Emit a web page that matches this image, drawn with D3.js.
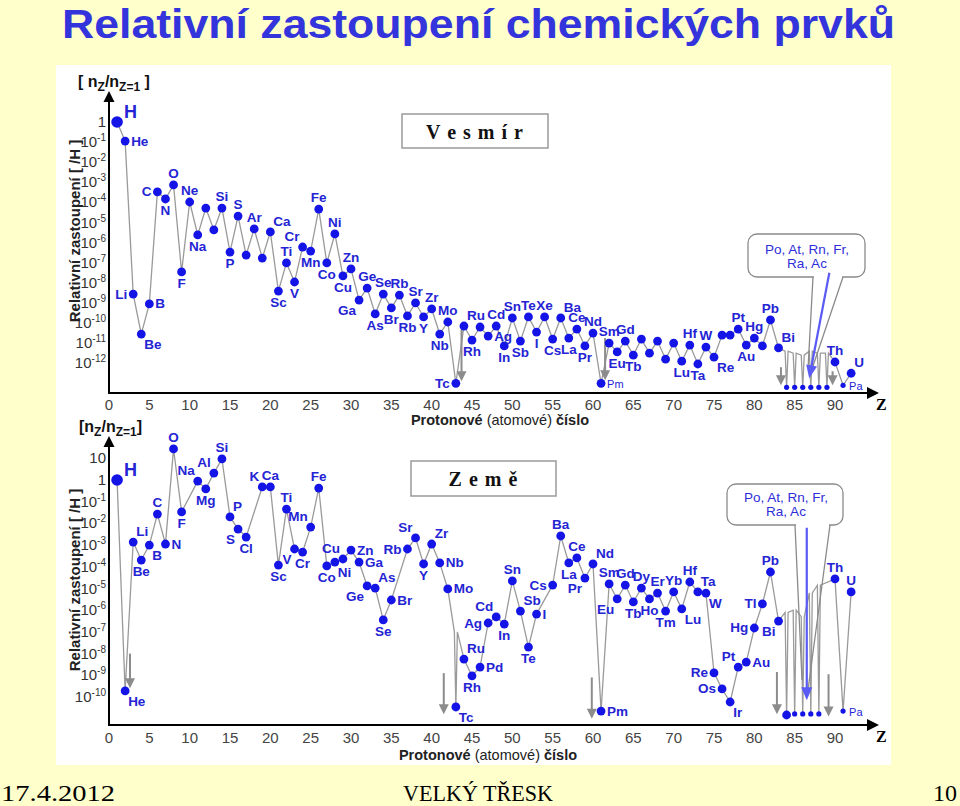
<!DOCTYPE html>
<html>
<head>
<meta charset="utf-8">
<script src="https://cdn.jsdelivr.net/npm/d3@7"></script>
<style>
  body { margin: 0; background: #ffffcc; }
  svg { display: block; }
</style>
</head>
<body>
<div id="chart"></div>
<script>
//////////////////////////// DATA
// element symbols, Z = 1..92
var symbols = ["H","He","Li","Be","B","C","N","O","F","Ne","Na","Mg","Al","Si","P","S","Cl","Ar",
  "K","Ca","Sc","Ti","V","Cr","Mn","Fe","Co","Ni","Cu","Zn","Ga","Ge","As","Se","Br","Kr",
  "Rb","Sr","Y","Zr","Nb","Mo","Tc","Ru","Rh","Pd","Ag","Cd","In","Sn","Sb","Te","I","Xe",
  "Cs","Ba","La","Ce","Pr","Nd","Pm","Sm","Eu","Gd","Tb","Dy","Ho","Er","Tm","Yb","Lu",
  "Hf","Ta","W","Re","Os","Ir","Pt","Au","Hg","Tl","Pb","Bi","Po","At","Rn","Fr","Ra","Ac",
  "Th","Pa","U"];

// log10 of abundance relative to H - universe (Vesmír). values near -13 sit on the floor
var vesmirLog = [
  0, -0.95, -8.56, -10.55, -9.05, -3.48, -3.83, -3.13, -7.46, -3.98,
  -5.62, -4.28, -5.37, -4.28, -6.47, -4.68, -6.62, -5.32, -6.77, -5.47,
  -8.41, -7.01, -7.96, -6.22, -6.42, -4.33, -7.01, -5.57, -7.66, -7.31,
  -8.86, -8.26, -9.55, -8.56, -9.25, -8.61, -9.65, -9.0, -9.7, -9.3,
  -10.55, -9.95, -13.0, -10.15, -10.85, -10.2, -10.65, -10.15, -11.14, -9.75,
  -10.9, -9.7, -10.45, -9.7, -10.8, -9.75, -10.75, -10.3, -11.14, -10.5,
  -13.0, -11.0, -11.44, -10.9, -11.6, -10.8, -11.5, -10.9, -11.8, -11.0,
  -11.9, -11.1, -12.04, -11.2, -11.7, -10.6, -10.6, -10.3, -11.1, -10.75,
  -11.14, -9.85, -11.24, -13.2, -13.2, -13.2, -13.2, -13.2, -13.2, -11.94,
  -13.1, -12.5];

// log10 of abundance relative to H - Earth (Země). null = not plotted
var zemeLog = [
  0, -9.72, -2.86, -3.69, -3.0, -1.57, -2.95, 1.43, -1.47, null,
  -0.05, -0.41, 0.32, 0.97, -1.7, -2.26, -2.63, null, -0.32, -0.32,
  -3.92, -1.34, -3.18, -3.32, -2.17, -0.37, -3.96, -3.78, -3.64, -3.23,
  -3.78, -4.88, -4.98, -6.45, -5.53, null, -3.18, -2.67, -3.87, -2.95,
  -3.82, -5.02, -10.46, -8.25, -9.03, -8.62, -6.59, -6.31, -6.64, -4.65,
  -6.04, -7.7, -6.18, null, -4.84, -2.58, -3.82, -3.59, -4.52, -3.87,
  -10.65, -4.79, -5.48, -4.84, -5.62, -4.98, -5.48, -5.21, -6.04, -5.16,
  -5.94, -4.7, -5.16, -5.21, -8.89, -9.63, -10.23, -8.62, -8.39, -6.82,
  -5.71, -4.24, -6.5, -10.83, -10.78, -10.78, -10.78, -10.78, null, -4.56,
  -10.65, -5.16];

// comb spikes above the "floor" elements (top of the vertical strokes, log10)
var vesmirSpikeZ = [84, 85, 86, 87, 88, 89];
var vesmirSpikeTop = [-11.4, -11.5, -11.6, -11.4, -11.5, -11.5];
var zemeSpikeZ = [43, 84, 85, 86, 87, 88];
var zemeSpikeTop = [-7.0, -6.1, -6.0, -6.3, -5.2, -4.85];

// small grey "below the scale" arrows: Z position, from, to (log10)
var vesmirArrowZ = [43.7, 61.5, 83.3, 89.7];
var vesmirArrowFrom = [-10.35, -10.75, -12.2, -12.4];
var vesmirArrowTo = [-12.9, -12.85, -13.1, -13.1];
var zemeArrowZ = [2.6, 41.5, 59.85, 82.8, 89.2];
var zemeArrowFrom = [-8.0, -8.9, -9.1, -8.85, -8.95];
var zemeArrowTo = [-9.6, -10.8, -11.0, -10.8, -10.9];

var xTicks = [0, 5, 10, 15, 20, 25, 30, 35, 40, 45, 50, 55, 60, 65, 70, 75, 80, 85, 90];
var vesmirYTicks = [0, -1, -2, -3, -4, -5, -6, -7, -8, -9, -10, -11, -12];
var zemeYTicks = [1, 0, -1, -2, -3, -4, -5, -6, -7, -8, -9, -10];

// label placement codes per element (. = no label)
var vesmirLabelPos = ("ne e w se e w s n s n " +
  "s . . n s n . n . ne " +
  "s n s nw s n s n s n " +
  "sw n s n s n s n s n " +
  "s n w ne s . e n s n " +
  "s n s n s ne s n s n " +
  "e n s n s . . . . . " +
  "s n s n se . . n s n " +
  ". n ne . . . . . . n " +
  "e ne").split(" ");
var zemeLabelPos = ("ne se ne s se n e n s . " +
  "nw s nw n ne sw s . nw n " +
  "s n sw s nw n s se nw e " +
  "e sw ne s e . w nw s ne " +
  "e e se ne s e w nw s n " +
  "ne s e . w n s n sw ne " +
  "e n sw n s n s n s n " +
  "se n ne se w w se nw e w " +
  "w n sw . . . . . . n " +
  "e n").split(" ");

// the source figure labels Kr as "Rb" in the universe panel
var vesmirNames = symbols.slice();
vesmirNames[35] = "Rb";

//////////////////////////// SVG
var svg = d3.select("#chart").append("svg")
    .attr("width", 960)
    .attr("height", 806);

svg.append("rect").attr("width", 960).attr("height", 806).attr("fill", "#ffffcc");
svg.append("rect").attr("x", 56).attr("y", 65).attr("width", 835).attr("height", 700).attr("fill", "#ffffff");

// title
svg.append("text")
    .attr("x", 62).attr("y", 38)
    .attr("textLength", 833).attr("lengthAdjust", "spacingAndGlyphs")
    .style("font", "bold 40px 'Liberation Sans Narrow', 'Liberation Sans', Arial, sans-serif")
    .style("fill", "#3434dc")
    .text("Relativní zastoupení chemických prvků");

// footer
var footFont = "24px 'Liberation Serif', 'Times New Roman', serif";
svg.append("text").attr("x", 1).attr("y", 801).attr("textLength", 114).attr("lengthAdjust", "spacingAndGlyphs")
    .style("font", footFont).text("17.4.2012");
svg.append("text").attr("x", 478).attr("y", 801).attr("text-anchor", "middle")
    .attr("textLength", 150).attr("lengthAdjust", "spacingAndGlyphs")
    .style("font", footFont).text("VELKÝ TŘESK");
svg.append("text").attr("x", 957).attr("y", 801).attr("text-anchor", "end")
    .style("font", footFont).text("10");

var x = d3.scaleLinear().domain([0, 90]).range([109, 835]);

var labelFont = "bold 13.5px 'Liberation Sans', Arial, sans-serif";
var dotColor = "#1414e6";
var labelColor = "#2424d4";
var lineColor = "#9a9a9a";

var offs = {
  n:  [0, -7, "middle"],
  s:  [0, 16, "middle"],
  e:  [6, 4.5, "start"],
  w:  [-6, 4.5, "end"],
  ne: [3, -6, "start"],
  nw: [-3, -6, "end"],
  se: [3, 15, "start"],
  sw: [-3, 15, "end"]
};

//////////////////////////////////////////////
// ONE PANEL
//////////////////////////////////////////////
function drawPanel(p) {
  var y = d3.scaleLinear().domain(p.yDomain).range(p.yRange);
  var g = svg.append("g");

  // y tick labels (powers of ten)
  g.selectAll(".ytick")
    .data(p.yTicks)
    .enter().append("text")
      .attr("x", 106)
      .attr("y", function(d) { return y(d) + 5; })
      .attr("text-anchor", "end")
      .style("font", "15px 'Liberation Sans', Arial, sans-serif")
      .style("fill", "#333")
      .each(function(d) {
        var t = d3.select(this);
        if (d === 0) t.text("1");
        else if (d === 1) t.text("10");
        else {
          t.append("tspan").text("10");
          t.append("tspan").attr("dy", -6).style("font-size", "10px").text(String(d));
        }
      });

  // x tick labels
  g.selectAll(".xtick")
    .data(xTicks)
    .enter().append("text")
      .attr("x", function(d) { return x(d); })
      .attr("y", p.axisY + p.xTickDy)
      .attr("text-anchor", "middle")
      .style("font", "15px 'Liberation Sans', Arial, sans-serif")
      .style("fill", "#444")
      .text(function(d) { return d; });

  // axes with arrow heads
  g.append("line").attr("x1", 109).attr("x2", 109).attr("y1", p.axisY).attr("y2", p.arrowTop + 8)
    .attr("stroke", "#000").attr("stroke-width", 2);
  g.append("path").attr("d", "M109," + p.arrowTop + "l-5.5,11h11z").attr("fill", "#000");
  g.append("line").attr("x1", 108).attr("x2", 870).attr("y1", p.axisY).attr("y2", p.axisY)
    .attr("stroke", "#000").attr("stroke-width", 2);
  g.append("path").attr("d", "M879," + p.axisY + "l-12,-6v12z").attr("fill", "#000");
  g.append("text").attr("x", 876).attr("y", p.axisY + 17)
    .style("font", "bold 16px 'Liberation Serif', serif").text("Z");

  // axis titles
  var xt = g.append("text").attr("x", p.xTitleX).attr("y", p.axisY + p.xTitleDy)
    .attr("text-anchor", "middle")
    .style("font", "14.5px 'Liberation Sans', Arial, sans-serif").style("fill", "#222");
  xt.append("tspan").style("font-weight", "bold").text("Protonové ");
  xt.append("tspan").text("(atomové) ");
  xt.append("tspan").style("font-weight", "bold").text("číslo");

  g.append("text")
    .attr("transform", "translate(80," + p.yTitleY + ")rotate(-90)")
    .attr("text-anchor", "middle")
    .style("font", "bold 15px 'Liberation Sans', Arial, sans-serif").style("fill", "#222")
    .text("Relativní  zastoupení [ /H ]");

  var unit = g.append("text").attr("x", p.unitX).attr("y", p.unitY)
    .style("font", "bold 16px 'Liberation Sans', Arial, sans-serif").style("fill", "#111");
  unit.append("tspan").text(p.spaced ? "[ n" : "[n");
  unit.append("tspan").attr("dy", 4).style("font-size", "12px").text("Z");
  unit.append("tspan").attr("dy", -4).text("/n");
  unit.append("tspan").attr("dy", 4).style("font-size", "12px").text("Z=1");
  unit.append("tspan").attr("dy", -4).text(p.spaced ? " ]" : "]");

  // connecting line, with comb spikes for the off-scale elements
  var pts = [];
  p.values.forEach(function(v, i) {
    if (v === null) return;
    var z = i + 1;
    var k = p.spikeZ.indexOf(z);
    if (k >= 0) {
      pts.push([x(z) - 1.5, y(p.spikeTop[k])], [x(z), y(v)], [x(z) + 1.5, y(p.spikeTop[k])]);
    } else {
      pts.push([x(z), y(v)]);
    }
  });
  g.append("path")
    .attr("d", d3.line()(pts))
    .attr("fill", "none")
    .attr("stroke", lineColor)
    .attr("stroke-width", 1.3);

  // grey arrows pointing below the scale
  p.arrowZ.forEach(function(z, i) {
    var ax = x(z), y1 = y(p.arrowFrom[i]), y2 = y(p.arrowTo[i]);
    g.append("line").attr("x1", ax).attr("x2", ax).attr("y1", y1).attr("y2", y2 - 8)
      .attr("stroke", "#8c8c8c").attr("stroke-width", 2);
    g.append("path").attr("d", "M" + ax + "," + y2 + "l-5,-10h10z").attr("fill", "#8c8c8c");
  });

  // callout box
  var c = p.callout;
  g.append("path")
    .attr("d", "M" + c.tailL[0] + "," + c.tailL[1] + "L" + c.tailL[2] + "," + c.tailL[3] +
               "M" + c.tailR[0] + "," + c.tailR[1] + "L" + c.tailR[2] + "," + c.tailR[3])
    .attr("stroke", "#8a8a8a").attr("stroke-width", 1.3).attr("fill", "none");
  g.append("rect").attr("x", c.x).attr("y", c.y).attr("width", c.w).attr("height", c.h)
    .attr("rx", 9).attr("fill", "#fff").attr("stroke", "#8a8a8a").attr("stroke-width", 1.3);
  g.append("line").attr("x1", c.tailL[0] + 1).attr("x2", c.tailR[0] - 1)
    .attr("y1", c.y + c.h).attr("y2", c.y + c.h).attr("stroke", "#fff").attr("stroke-width", 2.5);
  var ct = g.append("text").attr("text-anchor", "middle")
    .style("font", "13.5px 'Liberation Sans', Arial, sans-serif").style("fill", "#2e2ed8");
  ct.append("tspan").attr("x", c.tx).attr("y", c.ty).text("Po, At, Rn, Fr,");
  ct.append("tspan").attr("x", c.tx).attr("y", c.ty + 14).text("Ra, Ac");

  // name box
  g.append("rect").attr("x", p.box.x).attr("y", p.box.y).attr("width", p.box.w).attr("height", p.box.h)
    .attr("fill", "#fff").attr("stroke", "#9a9a9a").attr("stroke-width", 1.5);
  g.append("text").attr("x", p.box.x + p.box.w / 2).attr("y", p.box.y + 25)
    .attr("text-anchor", "middle")
    .style("font", "bold 20px 'Liberation Serif', 'Times New Roman', serif").style("fill", "#111")
    .style("letter-spacing", "1px")
    .text(p.box.text);

  // points
  var rows = [];
  p.values.forEach(function(v, i) {
    if (v === null) return;
    rows.push({ z: i + 1, v: v, name: p.names[i], pos: p.labelPos[i] });
  });

  g.selectAll(".dot")
    .data(rows)
    .enter().append("circle")
      .attr("cx", function(d) { return x(d.z); })
      .attr("cy", function(d) { return y(d.v); })
      .attr("r", function(d) {
        if (d.z === 1) return 5.8;
        if (p.smallZ.indexOf(d.z) >= 0) return 2.6;
        return 4.4;
      })
      .style("fill", dotColor);

  // labels
  g.selectAll(".lbl")
    .data(rows.filter(function(d) { return d.pos !== "."; }))
    .enter().append("text")
      .attr("x", function(d) {
        if (d.z === 1) return x(d.z) + 7;
        return x(d.z) + offs[d.pos][0];
      })
      .attr("y", function(d) {
        if (d.z === 1) return y(d.v) - 4;
        return y(d.v) + offs[d.pos][1];
      })
      .attr("text-anchor", function(d) { return d.z === 1 ? "start" : offs[d.pos][2]; })
      .style("font", function(d) {
        if (d.z === 1) return "bold 18px 'Liberation Sans', Arial, sans-serif";
        if (p.smallLabelZ.indexOf(d.z) >= 0) return "11px 'Liberation Sans', Arial, sans-serif";
        return labelFont;
      })
      .style("fill", labelColor)
      .text(function(d) { return d.name; });

  // blue arrow from the callout
  var b = p.blue;
  var bx1 = x(b.z1), by1 = y(b.v1), bx2 = x(b.z2), by2 = y(b.v2);
  var ang = Math.atan2(by2 - by1, bx2 - bx1) * 180 / Math.PI;
  var len = Math.hypot(bx2 - bx1, by2 - by1);
  g.append("g")
    .attr("transform", "translate(" + bx1 + "," + by1 + ")rotate(" + ang + ")")
    .call(function(a) {
      a.append("line").attr("x1", 0).attr("x2", len - 10).attr("y1", 0).attr("y2", 0)
        .attr("stroke", "#5a5af5").attr("stroke-width", 2.2);
      a.append("path").attr("d", "M" + len + ",0l-13,-5.5v11z").attr("fill", "#5a5af5");
    });
}

//////////////////////////// UNIVERSE (top)
drawPanel({
  values: vesmirLog, names: vesmirNames, labelPos: vesmirLabelPos,
  yDomain: [0, -12], yRange: [122, 363.2], yTicks: vesmirYTicks,
  axisY: 393, arrowTop: 91, xTickDy: 17,
  xTitleX: 500, xTitleDy: 32, yTitleY: 231,
  unitX: 78, unitY: 87, spaced: true,
  spikeZ: vesmirSpikeZ, spikeTop: vesmirSpikeTop,
  arrowZ: vesmirArrowZ, arrowFrom: vesmirArrowFrom, arrowTo: vesmirArrowTo,
  smallZ: [84, 85, 86, 87, 88, 89, 91], smallLabelZ: [61, 91],
  callout: { x: 748, y: 234, w: 117, h: 43, tx: 807, ty: 254,
             tailL: [813, 277, 808, 369], tailR: [843, 277, 812, 369] },
  box: { x: 402, y: 114, w: 146, h: 34, text: "V e s m í r" },
  blue: { z1: 89.3, v1: -7.5, z2: 86.8, v2: -12.75 }
});

//////////////////////////// EARTH (bottom)
drawPanel({
  values: zemeLog, names: symbols, labelPos: zemeLabelPos,
  yDomain: [1, -10], yRange: [458.3, 697], yTicks: zemeYTicks,
  axisY: 725, arrowTop: 436, xTickDy: 18,
  xTitleX: 488, xTitleDy: 35, yTitleY: 580,
  unitX: 79, unitY: 432, spaced: false,
  spikeZ: zemeSpikeZ, spikeTop: zemeSpikeTop,
  arrowZ: zemeArrowZ, arrowFrom: zemeArrowFrom, arrowTo: zemeArrowTo,
  smallZ: [85, 86, 87, 88, 91], smallLabelZ: [91],
  callout: { x: 727, y: 484, w: 116, h: 41, tx: 786, ty: 502,
             tailL: [795, 525, 802, 680], tailR: [830, 525, 808, 690] },
  box: { x: 411, y: 461, w: 145, h: 35, text: "Z e m ě" },
  blue: { z1: 86.5, v1: -2.2, z2: 86.5, v2: -10.15 }
});
</script>
</body>
</html>
